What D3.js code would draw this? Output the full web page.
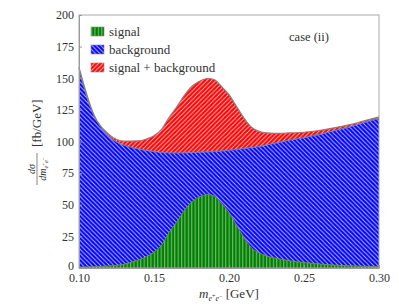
<!DOCTYPE html>
<html>
<head>
<meta charset="utf-8">
<script src="https://cdn.jsdelivr.net/npm/d3@7"></script>
<style>
  body { margin: 0; background: #fff; }
  text { font-family: "Liberation Serif", "DejaVu Serif", serif; fill: #333; }
</style>
</head>
<body>
<div id="chart-container"></div>
<script>
'use strict'

// invariant mass points (GeV)
var massSignal = [0.100, 0.110, 0.120, 0.130, 0.140, 0.145, 0.150, 0.155, 0.160, 0.165, 0.170, 0.175, 0.180,
    0.186, 0.190, 0.195, 0.200, 0.205, 0.210, 0.215, 0.220, 0.225, 0.230, 0.240, 0.250, 0.260, 0.270,
    0.280, 0.290, 0.300]
var signal = [0.6, 1.0, 1.6, 3.0, 6.5, 9, 12.5, 18, 28, 36, 45, 52, 56,
    58, 57, 51, 44, 34, 24, 16, 12, 9.5, 8, 5.8, 4.3, 3.2, 2.3,
    1.7, 1.3, 1.0]

var massBkg = [0.100, 0.102, 0.104, 0.106, 0.108, 0.110, 0.113, 0.116, 0.120, 0.126, 0.133, 0.140, 0.150,
    0.160, 0.170, 0.180, 0.190, 0.200, 0.210, 0.220, 0.230, 0.240, 0.250, 0.260, 0.270, 0.280, 0.290, 0.300]
var background = [158, 148, 140, 132, 126, 120, 114, 109, 104, 99, 96, 94, 92,
    91, 91, 91.5, 92, 93, 94.5, 96, 98.5, 101, 103, 105.5, 108.5, 111.5, 115, 118.5]

var xTicks = [0.10, 0.15, 0.20, 0.25, 0.30]
var yTicks = [0, 25, 50, 75, 100, 125, 150, 175, 200]
var legendLabels = ['signal', 'background', 'signal + background']

// background on a shared grid so it can be stacked with the signal
var bkgAt = function(m) {
    for (var i = 1; i < massBkg.length; i++) {
        if (m <= massBkg[i]) {
            var t = (m - massBkg[i-1]) / (massBkg[i] - massBkg[i-1])
            return background[i-1] + t * (background[i] - background[i-1])
        }
    }
    return background[background.length - 1]
}

var margins = { top: 15, bottom: 37, left: 79, right: 20 }
var W = 399, H = 305
var width = W - margins.left - margins.right
var height = H - margins.top - margins.bottom

var svg = d3.select('#chart-container').append('svg')
    .attr('width', W).attr('height', H)

var defs = svg.append('defs')
var makeHatch = function(id, color, kind) {
    var s = kind === 'v' ? 3.4 : 4.4
    var p = defs.append('pattern').attr('id', id)
        .attr('patternUnits', 'userSpaceOnUse')
        .attr('width', s).attr('height', s)
    p.append('rect').attr('width', s).attr('height', s).attr('fill', color)
    if (kind === 'v') {
        p.append('line').attr('x1', 0.6).attr('x2', 0.6).attr('y1', 0).attr('y2', s)
            .attr('stroke', '#fff').attr('stroke-opacity', 0.5).attr('stroke-width', 1)
    } else {
        var a = -1, b = s + 1
        var d = kind === 'b'
            ? 'M' + a + ',' + a + ' L' + b + ',' + b + ' M-1,' + (s - 1) + ' L1,' + (s + 1) + ' M' + (s - 1) + ',-1 L' + (s + 1) + ',1'
            : 'M' + a + ',' + b + ' L' + b + ',' + a + ' M-1,1 L1,-1 M' + (s - 1) + ',' + (s + 1) + ' L' + (s + 1) + ',' + (s - 1)
        p.append('path').attr('d', d)
            .attr('stroke', '#fff').attr('stroke-opacity', 0.75).attr('stroke-width', 1)
    }
}
makeHatch('hatchGreen', '#008000', 'v')
makeHatch('hatchBlue', '#0000ff', 'b')
makeHatch('hatchRed', '#ff0000', 'f')

var chart = svg.append('g')
    .attr('transform', 'translate(' + margins.left + ',' + margins.top + ')')

var x = d3.scaleLinear().domain([0.10, 0.30]).range([0, width])
var y = d3.scaleLinear().domain([0, 200]).range([height, 0])

var sigData = massSignal.map((m, i) => ({ m: m, s: signal[i], b: bkgAt(m) }))
var bkgData = massBkg.map((m, i) => ({ m: m, b: background[i] }))

var curve = d3.curveMonotoneX
var edge = '#808080'

// signal + background (red) stacked on top of background
chart.append('path').datum(sigData)
    .attr('fill', 'url(#hatchRed)')
    .attr('d', d3.area().curve(curve).x(d => x(d.m)).y0(d => y(d.b)).y1(d => y(d.b + d.s)))
chart.append('path').datum(sigData)
    .attr('fill', 'none').attr('stroke', edge).attr('stroke-width', 1.2)
    .attr('d', d3.line().curve(curve).x(d => x(d.m)).y(d => y(d.b + d.s)))

// background (blue)
chart.append('path').datum(bkgData)
    .attr('fill', 'url(#hatchBlue)')
    .attr('d', d3.area().curve(curve).x(d => x(d.m)).y0(y(0)).y1(d => y(d.b)))
chart.append('path').datum(bkgData)
    .attr('fill', 'none').attr('stroke', edge).attr('stroke-width', 1)
    .attr('d', d3.line().curve(curve).x(d => x(d.m)).y(d => y(d.b)))

// signal (green)
chart.append('path').datum(sigData)
    .attr('fill', 'url(#hatchGreen)')
    .attr('d', d3.area().curve(curve).x(d => x(d.m)).y0(y(0)).y1(d => y(d.s)))
chart.append('path').datum(sigData)
    .attr('fill', 'none').attr('stroke', edge).attr('stroke-width', 1)
    .attr('d', d3.line().curve(curve).x(d => x(d.m)).y(d => y(d.s)))

// frame
chart.append('rect').attr('width', width).attr('height', height)
    .attr('fill', 'none').attr('stroke', '#aaa').attr('stroke-width', 1)

// axes
var xAxis = chart.append('g').attr('transform', 'translate(0,' + height + ')')
    .call(d3.axisBottom(x).tickValues(xTicks).tickFormat(d3.format('.2f')).tickSizeInner(-3).tickSizeOuter(0).tickPadding(6))
var yAxis = chart.append('g')
    .call(d3.axisLeft(y).tickValues(yTicks).tickSizeInner(-3).tickSizeOuter(0).tickPadding(5))
;[xAxis, yAxis].forEach(a => {
    a.select('.domain').attr('stroke', '#999')
    a.selectAll('.tick line').attr('stroke', '#999')
    a.selectAll('.tick text').attr('fill', '#333').style('font-size', '12px')
        .style('font-family', '"Liberation Serif", serif')
})
xAxis.selectAll('.tick text').attr('dy', '0.66em')
// nudge the zero label so it clears 0.10 below it
yAxis.selectAll('.tick text').filter(d => d === 0).attr('dy', '0.15em')

// legend
var legendFills = ['url(#hatchGreen)', 'url(#hatchBlue)', 'url(#hatchRed)']
var legend = chart.append('g').attr('transform', 'translate(12,12)')
legendLabels.forEach((l, i) => {
    legend.append('rect').attr('x', 0).attr('y', i * 18).attr('width', 13).attr('height', 9)
        .attr('fill', legendFills[i]).attr('stroke', '#888').attr('stroke-width', 0.6)
    legend.append('text').attr('x', 18).attr('y', i * 18 + 8.5)
        .style('font-size', '13px').text(l)
})

chart.append('text').attr('x', 230).attr('y', 26)
    .style('text-anchor', 'middle').style('font-size', '12.5px').text('case (ii)')

// x label
var xl = svg.append('text').attr('x', 229).attr('y', 297.5)
    .style('text-anchor', 'middle').style('font-size', '13px')
xl.append('tspan').style('font-style', 'italic').text('m')
xl.append('tspan').attr('dy', 3).style('font-size', '8px').style('font-style', 'italic').text('e')
xl.append('tspan').attr('dy', -3).style('font-size', '6px').text('+')
xl.append('tspan').attr('dy', 3).style('font-size', '8px').style('font-style', 'italic').text('e')
xl.append('tspan').attr('dy', -3).style('font-size', '6px').text('−')
xl.append('tspan').attr('dy', 0).text(' [GeV]')

// y label (rotated)
var yl = svg.append('g').attr('transform', 'translate(37,141) rotate(-90)')
yl.append('text').attr('x', -28).attr('y', -2.5).style('text-anchor', 'middle')
    .style('font-size', '10px').style('font-style', 'italic').text('dσ')
yl.append('line').attr('x1', -44).attr('x2', -12).attr('y1', 0).attr('y2', 0)
    .attr('stroke', '#333').attr('stroke-width', 0.6)
var den = yl.append('text').attr('x', -28).attr('y', 8.5).style('text-anchor', 'middle')
    .style('font-size', '10px').style('font-style', 'italic')
den.append('tspan').text('dm')
den.append('tspan').attr('dy', 2).style('font-size', '6.5px').text('e')
den.append('tspan').attr('dy', -2.5).style('font-size', '5px').style('font-style', 'normal').text('+')
den.append('tspan').attr('dy', 2.5).style('font-size', '6.5px').text('e')
den.append('tspan').attr('dy', -2.5).style('font-size', '5px').style('font-style', 'normal').text('−')
yl.append('text').attr('x', -6).attr('y', 4).style('font-size', '13px').text('[fb/GeV]')
</script>
</body>
</html>
